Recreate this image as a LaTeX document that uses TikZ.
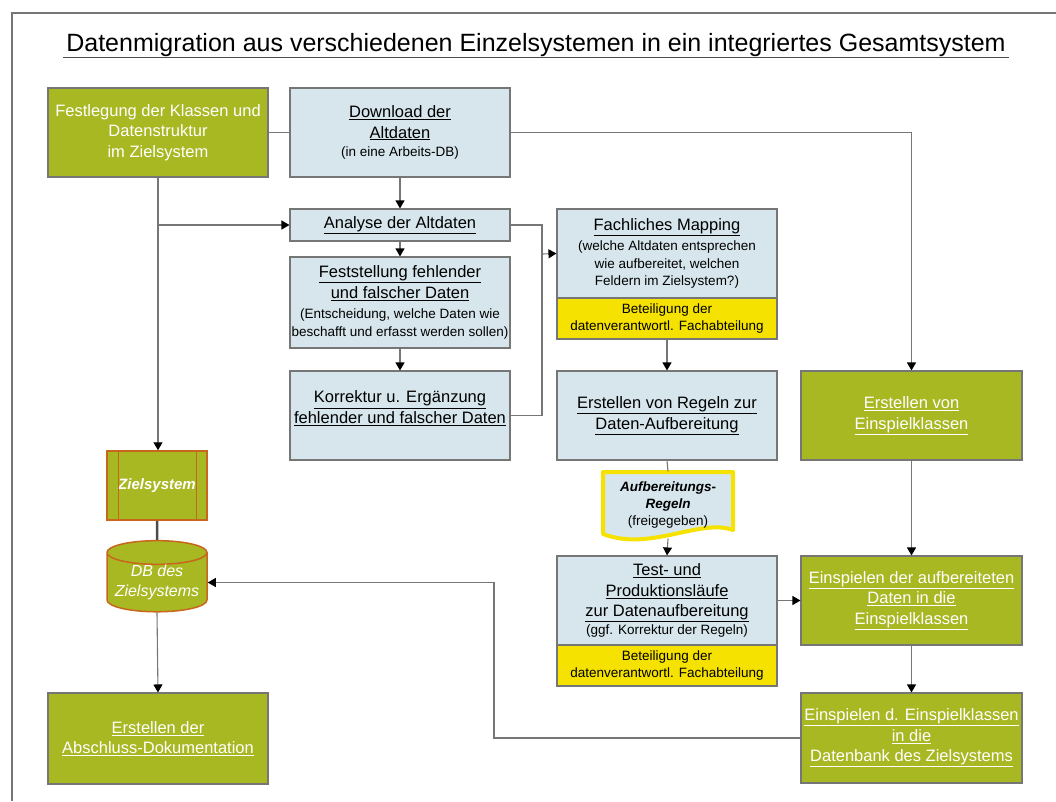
\documentclass[tikz,border=0pt]{standalone}
\usepackage{fontspec}
\setmainfont{Liberation Sans}
\usetikzlibrary{arrows.meta,shapes.geometric}
\definecolor{gruen}{HTML}{A8B823}
\definecolor{hellblau}{HTML}{D6E6EC}
\definecolor{gelb}{HTML}{F6E200}
\definecolor{rahmen}{HTML}{767676}
\definecolor{zielorange}{HTML}{C8661C}
\newcommand{\gross}{\fontsize{16.5}{20.5}\selectfont}
\newcommand{\klein}{\fontsize{13.5}{17}\selectfont}
\newcommand{\unter}[1]{\underline{#1}}

\begin{document}
\begin{tikzpicture}[x=1pt,y=-1pt,
    kasten/.style={draw=rahmen, line width=1.1pt, inner sep=0pt, align=center,
        minimum width=220pt, minimum height=89pt, font=\gross},
    blau/.style={kasten, fill=hellblau},
    gruenbox/.style={kasten, fill=gruen, text=white},
    beteiligt/.style={kasten, fill=gelb, minimum height=41pt, font=\klein},
    pfeil/.style={-{Triangle[width=9pt,length=8pt,color=black]}},
    linie/.style={draw=rahmen, line width=1.1pt}]
        \useasboundingbox (0,0) rectangle (1056,801);
        \draw[line width=1.5pt, rahmen] (1056,13) -- (12,13) -- (12,801);

        % Titel
        \node (titel) at (536,45) {\fontsize{25}{29}\selectfont
            Datenmigration aus verschiedenen Einzelsystemen in ein integriertes Gesamtsystem};
        \draw[line width=1.3pt, black!70] ([yshift=-6pt]titel.base west) -- ([yshift=-6pt]titel.base east);

        % Knoten
        \node[gruenbox] (fest) at (158,132.5) {Festlegung der Klassen und\\Datenstruktur\\im Zielsystem};
        \node[blau] (download) at (400,132.5) {\unter{Download der}\\\unter{Altdaten}\\[-2pt]{\klein (in eine Arbeits-DB)}};
        \node[blau, minimum height=32pt] (analyse) at (400,225) {\unter{Analyse der Altdaten}};
        \node[blau, minimum height=91pt] (feststellung) at (400,302.5) {\unter{Feststellung fehlender}\\\unter{und falscher Daten}\\{\klein (Entscheidung, welche Daten wie}\\[-3pt]{\klein beschafft und erfasst werden sollen)}};
        \node[blau] (korrektur) at (400,415.5) {\unter{Korrektur u. Ergänzung}\\\unter{fehlender und falscher Daten}\\[-4pt]};
        \node[blau] (mapping) at (667,253.5) {\unter{Fachliches Mapping}\\{\klein (welche Altdaten entsprechen}\\[-3pt]{\klein wie aufbereitet, welchen}\\[-3pt]{\klein Feldern im Zielsystem?)}};
        \node[beteiligt] (mappingbet) at (667,318.5) {Beteiligung der\\datenverantwortl. Fachabteilung};
        \node[blau] (regeln) at (667,415.5) {\unter{Erstellen von Regeln zur}\\\unter{Daten-Aufbereitung}};
        \node[gruenbox, minimum width=221pt] (einspielkl) at (911.5,415.5) {\unter{Erstellen von}\\\unter{Einspielklassen}};
        \node[inner sep=0pt, minimum width=131pt, minimum height=67pt] (regeldoc) at (668,505) {};
        \node[blau] (test) at (667,600.5) {\unter{Test- und}\\\unter{Produktionsläufe}\\\unter{zur Datenaufbereitung}\\[-3pt]{\klein (ggf. Korrektur der Regeln)}};
        \node[beteiligt] (testbet) at (667,665.5) {Beteiligung der\\datenverantwortl. Fachabteilung};
        \node[gruenbox, minimum width=221pt] (einspielen) at (911.5,600.5) {\unter{Einspielen der aufbereiteten}\\\unter{Daten in die}\\\unter{Einspielklassen}};
        \node[gruenbox, minimum width=221pt, minimum height=90pt] (einspielendb) at (911.5,738) {\unter{Einspielen d. Einspielklassen}\\\unter{in die}\\\unter{Datenbank des Zielsystems}};
        \node[gruenbox, draw=zielorange, line width=1.5pt, minimum width=100pt, minimum height=69pt, font=\fontsize{15}{18}\selectfont\bfseries\itshape] (zielsys) at (157,485.5) {Zielsystem};
        \node[cylinder, shape border rotate=90, aspect=0.28, draw=zielorange, line width=1.5pt, fill=gruen, text=white,
            minimum width=100pt, minimum height=69pt, inner sep=0pt, align=center, font=\fontsize{16}{20}\selectfont\itshape] (zieldb) at (157,582.5) {DB des\\Zielsystems};
        \node[gruenbox, minimum height=91pt] (abschluss) at (158,738.5) {\unter{Erstellen der}\\\unter{Abschluss-Dokumentation}};

        % Zielsystem-Symbol und Regel-Dokument
        \draw[zielorange, line width=1.2pt] ([xshift=12pt]zielsys.north west) -- ([xshift=12pt]zielsys.south west);
        \draw[zielorange, line width=1.2pt] ([xshift=-11pt]zielsys.north east) -- ([xshift=-11pt]zielsys.south east);
        \draw[gelb, line width=4pt, line join=round, fill=hellblau] (603,472) -- (733,472) -- (733,530) .. controls (700,518) and (650,552) .. (603,534) -- cycle;
        \node[inner sep=0pt, align=center, font=\klein] at (regeldoc) {\textbf{\textit{Aufbereitungs-}}\\\textbf{\textit{Regeln}}\\(freigegeben)};

        % Verbindungen
        \coordinate (abzweig) at (fest.south |- analyse.west);
        \coordinate (sammel) at (542,254);
        \coordinate (rueck) at (494,738);
        \draw[linie] (fest) -- (download);
        \draw[linie, pfeil] (download.east) -| (einspielkl.north);
        \draw[linie, pfeil] (download) -- (analyse);
        \draw[linie, pfeil] (fest.south) -- (fest.south |- zielsys.north);
        \draw[linie, pfeil] (abzweig) -- (analyse.west);
        \draw[linie, pfeil] (analyse) -- (feststellung);
        \draw[linie, pfeil] (feststellung) -- (korrektur);
        \draw[linie] (analyse.east) -| (sammel) |- (korrektur.east);
        \draw[linie, pfeil] (sammel) -- (mapping.west);
        \draw[linie, pfeil] (mappingbet) -- (regeln);
        \draw[linie] (regeln.south) -- (regeldoc.north);
        \draw[linie, pfeil] (regeldoc.south) -- (test.north);
        \draw[linie, pfeil] (test) -- (einspielen);
        \draw[linie, pfeil] (einspielkl) -- (einspielen);
        \draw[linie, pfeil] (einspielen) -- (einspielendb);
        \draw[linie, pfeil] (einspielendb.west) -| (rueck |- zieldb.east) -- (zieldb.east);
        \draw[line width=2.5pt, black!70] (zielsys.south) -- (zieldb.north);
        \draw[linie, pfeil] (zieldb.south) -- (abschluss.north);
\end{tikzpicture}
\end{document}
